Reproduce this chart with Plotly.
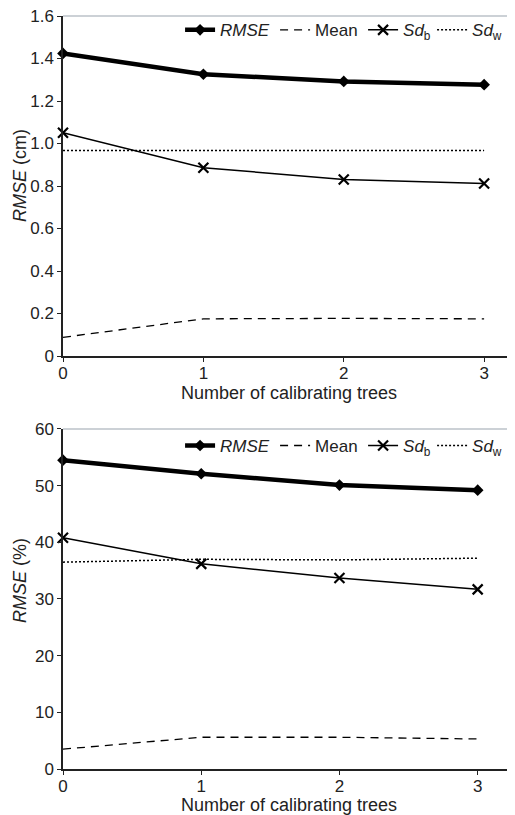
import plotly.graph_objects as go
from plotly.subplots import make_subplots

trees = [0, 1, 2, 3]

# Top panel (cm)
rmse_cm = [1.424, 1.326, 1.292, 1.277]
mean_cm = [0.088, 0.175, 0.177, 0.175]
sdb_cm = [1.051, 0.886, 0.831, 0.812]
sdw_cm = [0.967, 0.968, 0.968, 0.967]

# Bottom panel (%)
rmse_pct = [54.5, 52.1, 50.1, 49.2]
mean_pct = [3.5, 5.6, 5.6, 5.3]
sdb_pct = [40.8, 36.2, 33.7, 31.7]
sdw_pct = [36.5, 37.0, 36.9, 37.2]

names = ["<i>RMSE</i>", "Mean", "<i>Sd</i><sub>b</sub>", "<i>Sd</i><sub>w</sub>"]
legend_widths = [50, 43, 24, 26]

fig = make_subplots(rows=2, cols=1, vertical_spacing=0.0969)

def add_panel(row, rmse, mean, sdb, sdw, legend):
    fig.add_trace(go.Scatter(x=trees, y=rmse, name=names[0], mode="lines+markers",
                             line=dict(color="black", width=4.5),
                             marker=dict(symbol="diamond", size=9, color="black"),
                             cliponaxis=False, legend=legend, legendwidth=legend_widths[0]),
                  row=row, col=1)
    fig.add_trace(go.Scatter(x=trees, y=mean, name=names[1], mode="lines",
                             line=dict(color="black", width=1.3, dash="8px,6px"),
                             cliponaxis=False, legend=legend, legendwidth=legend_widths[1]),
                  row=row, col=1)
    fig.add_trace(go.Scatter(x=trees, y=sdb, name=names[2], mode="lines+markers",
                             line=dict(color="black", width=1.5),
                             marker=dict(symbol="x-thin-open", size=10,
                                         line=dict(color="black", width=2.2)),
                             cliponaxis=False, legend=legend, legendwidth=legend_widths[2]),
                  row=row, col=1)
    fig.add_trace(go.Scatter(x=trees, y=sdw, name=names[3], mode="lines",
                             line=dict(color="black", width=1.5, dash="2px,2px"),
                             cliponaxis=False, legend=legend, legendwidth=legend_widths[3]),
                  row=row, col=1)

add_panel(1, rmse_cm, mean_cm, sdb_cm, sdw_cm, "legend")
add_panel(2, rmse_pct, mean_pct, sdb_pct, sdw_pct, "legend2")

font = dict(family="Liberation Sans, Arial, sans-serif", size=17, color="#222222")

axis_common = dict(showgrid=False, zeroline=False, showline=True, linecolor="#222222",
                   linewidth=1.5, ticks="outside", ticklen=4, tickcolor="#222222",
                   tickfont=dict(size=17), ticklabeloverflow="allow", automargin=False)

fig.update_xaxes(**axis_common, tickvals=trees, ticktext=[str(t) for t in trees],
                 ticklabelstandoff=-3,
                 title=dict(text="Number of calibrating trees", font=dict(size=18), standoff=0))
fig.update_xaxes(range=[0, 3.22], row=1, col=1)
fig.update_xaxes(range=[0, 3.27], row=2, col=1)

fig.update_yaxes(**axis_common)
fig.update_yaxes(range=[0, 1.6], tickvals=[0, 0.2, 0.4, 0.6, 0.8, 1.0, 1.2, 1.4, 1.6],
                 ticktext=["0", "0.2", "0.4", "0.6", "0.8", "1.0", "1.2", "1.4", "1.6"],
                 row=1, col=1)
fig.update_yaxes(range=[0, 60], tickvals=[0, 10, 20, 30, 40, 50, 60], row=2, col=1)

# y-axis titles (placed slightly above centre, as in the original)
for txt, yc in [("<i>RMSE</i> (cm)", 0.7875), ("<i>RMSE</i> (%)", 0.2497)]:
    fig.add_annotation(text=txt, xref="paper", yref="paper", x=-0.095, y=yc,
                       xanchor="center", yanchor="middle", textangle=-90,
                       showarrow=False, font=dict(size=18))

# light top border lines
for xr, yr in [("x domain", "y domain"), ("x2 domain", "y2 domain")]:
    fig.add_shape(type="line", xref=xr, yref=yr, x0=0, x1=1, y0=1, y1=1,
                  line=dict(color="#9aa4ad", width=1.2))

legend_common = dict(orientation="h", xanchor="left", x=0.259, yanchor="middle",
                     bgcolor="rgba(0,0,0,0)", font=dict(size=17), itemwidth=30,
                     tracegroupgap=0, entrywidthmode="pixels")

fig.update_layout(
    width=507, height=807,
    margin=dict(l=55, r=0, t=8, b=46, autoexpand=False),
    paper_bgcolor="white", plot_bgcolor="white",
    font=font,
    legend=dict(**legend_common, y=0.981),
    legend2=dict(**legend_common, y=0.429),
)

fig.write_html("out.html")
